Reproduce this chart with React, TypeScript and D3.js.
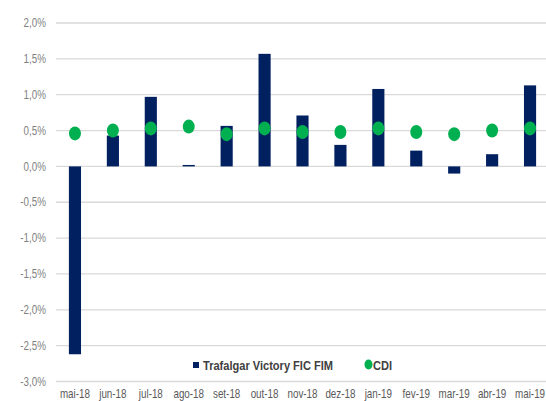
import React, { useEffect, useRef } from 'react';
import * as d3 from 'd3';

// Monthly returns (%)
const months = ['mai-18', 'jun-18', 'jul-18', 'ago-18', 'set-18', 'out-18', 'nov-18', 'dez-18', 'jan-19', 'fev-19', 'mar-19', 'abr-19', 'mai-19'];
const fundValues = [-2.62, 0.43, 0.97, 0.02, 0.565, 1.57, 0.71, 0.30, 1.08, 0.22, -0.10, 0.17, 1.13];
const cdiValues = [0.46, 0.50, 0.53, 0.555, 0.45, 0.53, 0.48, 0.48, 0.53, 0.48, 0.45, 0.50, 0.53];
const yTicks = [-3, -2.5, -2, -1.5, -1, -0.5, 0, 0.5, 1, 1.5, 2];
const seriesNames = ['Trafalgar Victory FIC FIM', 'CDI'];

const WIDTH = 546;
const HEIGHT = 401;
const NAVY = '#002060';
const GREEN = '#00b050';
const FONT = '"Liberation Sans", Arial, sans-serif';
const SQUEEZE = 0.82; // the source text is horizontally condensed

const App = () => {
    const svgRef = useRef<SVGSVGElement>(null);

    useEffect(() => {
        document.body.style.margin = '0';
        const svg = d3.select(svgRef.current);
        svg.selectAll('*').remove();

        const x = d3.scaleBand<string>()
            .domain(months)
            .range([56, 549])
            .paddingInner(0.68)
            .paddingOuter(0.34);

        const y = d3.scaleLinear()
            .domain([-3, 2])
            .range([381.5, 23]);

        // Gridlines
        svg.append('g')
            .selectAll('line')
            .data(yTicks)
            .join('line')
            .attr('x1', 56)
            .attr('x2', WIDTH)
            .attr('y1', d => y(d))
            .attr('y2', d => y(d))
            .attr('stroke', '#d9d9d9')
            .attr('stroke-width', 1.3);

        // Y axis labels
        svg.append('g')
            .selectAll('text')
            .data(yTicks)
            .join('text')
            .attr('transform', d => `translate(46,${y(d)}) scale(${SQUEEZE},1)`)
            .attr('dy', '0.35em')
            .attr('text-anchor', 'end')
            .attr('font-family', FONT)
            .attr('font-size', 12)
            .attr('fill', '#7f7f7f')
            .text(d => d3.format('.1f')(d).replace('.', ',').replace('−', '-') + '%');

        // X axis labels
        svg.append('g')
            .selectAll('text')
            .data(months)
            .join('text')
            .attr('transform', d => `translate(${(x(d) as number) + x.bandwidth() / 2},398) scale(${SQUEEZE},1)`)
            .attr('text-anchor', 'middle')
            .attr('font-family', FONT)
            .attr('font-size', 12)
            .attr('fill', '#595959')
            .text(d => d);

        // Bars
        svg.append('g')
            .selectAll('rect')
            .data(fundValues)
            .join('rect')
            .attr('x', (d, i) => x(months[i]) as number)
            .attr('width', x.bandwidth())
            .attr('y', d => Math.min(y(d), y(0)))
            .attr('height', d => Math.max(Math.abs(y(d) - y(0)), 1))
            .attr('fill', NAVY);

        // CDI markers
        svg.append('g')
            .selectAll('ellipse')
            .data(cdiValues)
            .join('ellipse')
            .attr('cx', (d, i) => (x(months[i]) as number) + x.bandwidth() / 2)
            .attr('cy', d => y(d))
            .attr('rx', 6)
            .attr('ry', 7)
            .attr('fill', GREEN);

        // Legend
        const legend = svg.append('g');
        legend.append('rect')
            .attr('x', 193)
            .attr('y', 362)
            .attr('width', 6)
            .attr('height', 6)
            .attr('fill', NAVY);
        legend.append('text')
            .attr('transform', `translate(203,369.5) scale(${SQUEEZE},1)`)
            .attr('font-family', FONT)
            .attr('font-size', 13.5)
            .attr('font-weight', 'bold')
            .attr('fill', '#404040')
            .text(seriesNames[0]);
        legend.append('ellipse')
            .attr('cx', 368.5)
            .attr('cy', 364.5)
            .attr('rx', 4)
            .attr('ry', 5)
            .attr('fill', GREEN);
        legend.append('text')
            .attr('transform', `translate(373,369.5) scale(${SQUEEZE},1)`)
            .attr('font-family', FONT)
            .attr('font-size', 13.5)
            .attr('font-weight', 'bold')
            .attr('fill', '#404040')
            .text(seriesNames[1]);
    }, []);

    return (
        <svg ref={svgRef} width={WIDTH} height={HEIGHT} style={{ display: 'block', background: '#fff' }} />
    );
};

export default App;
